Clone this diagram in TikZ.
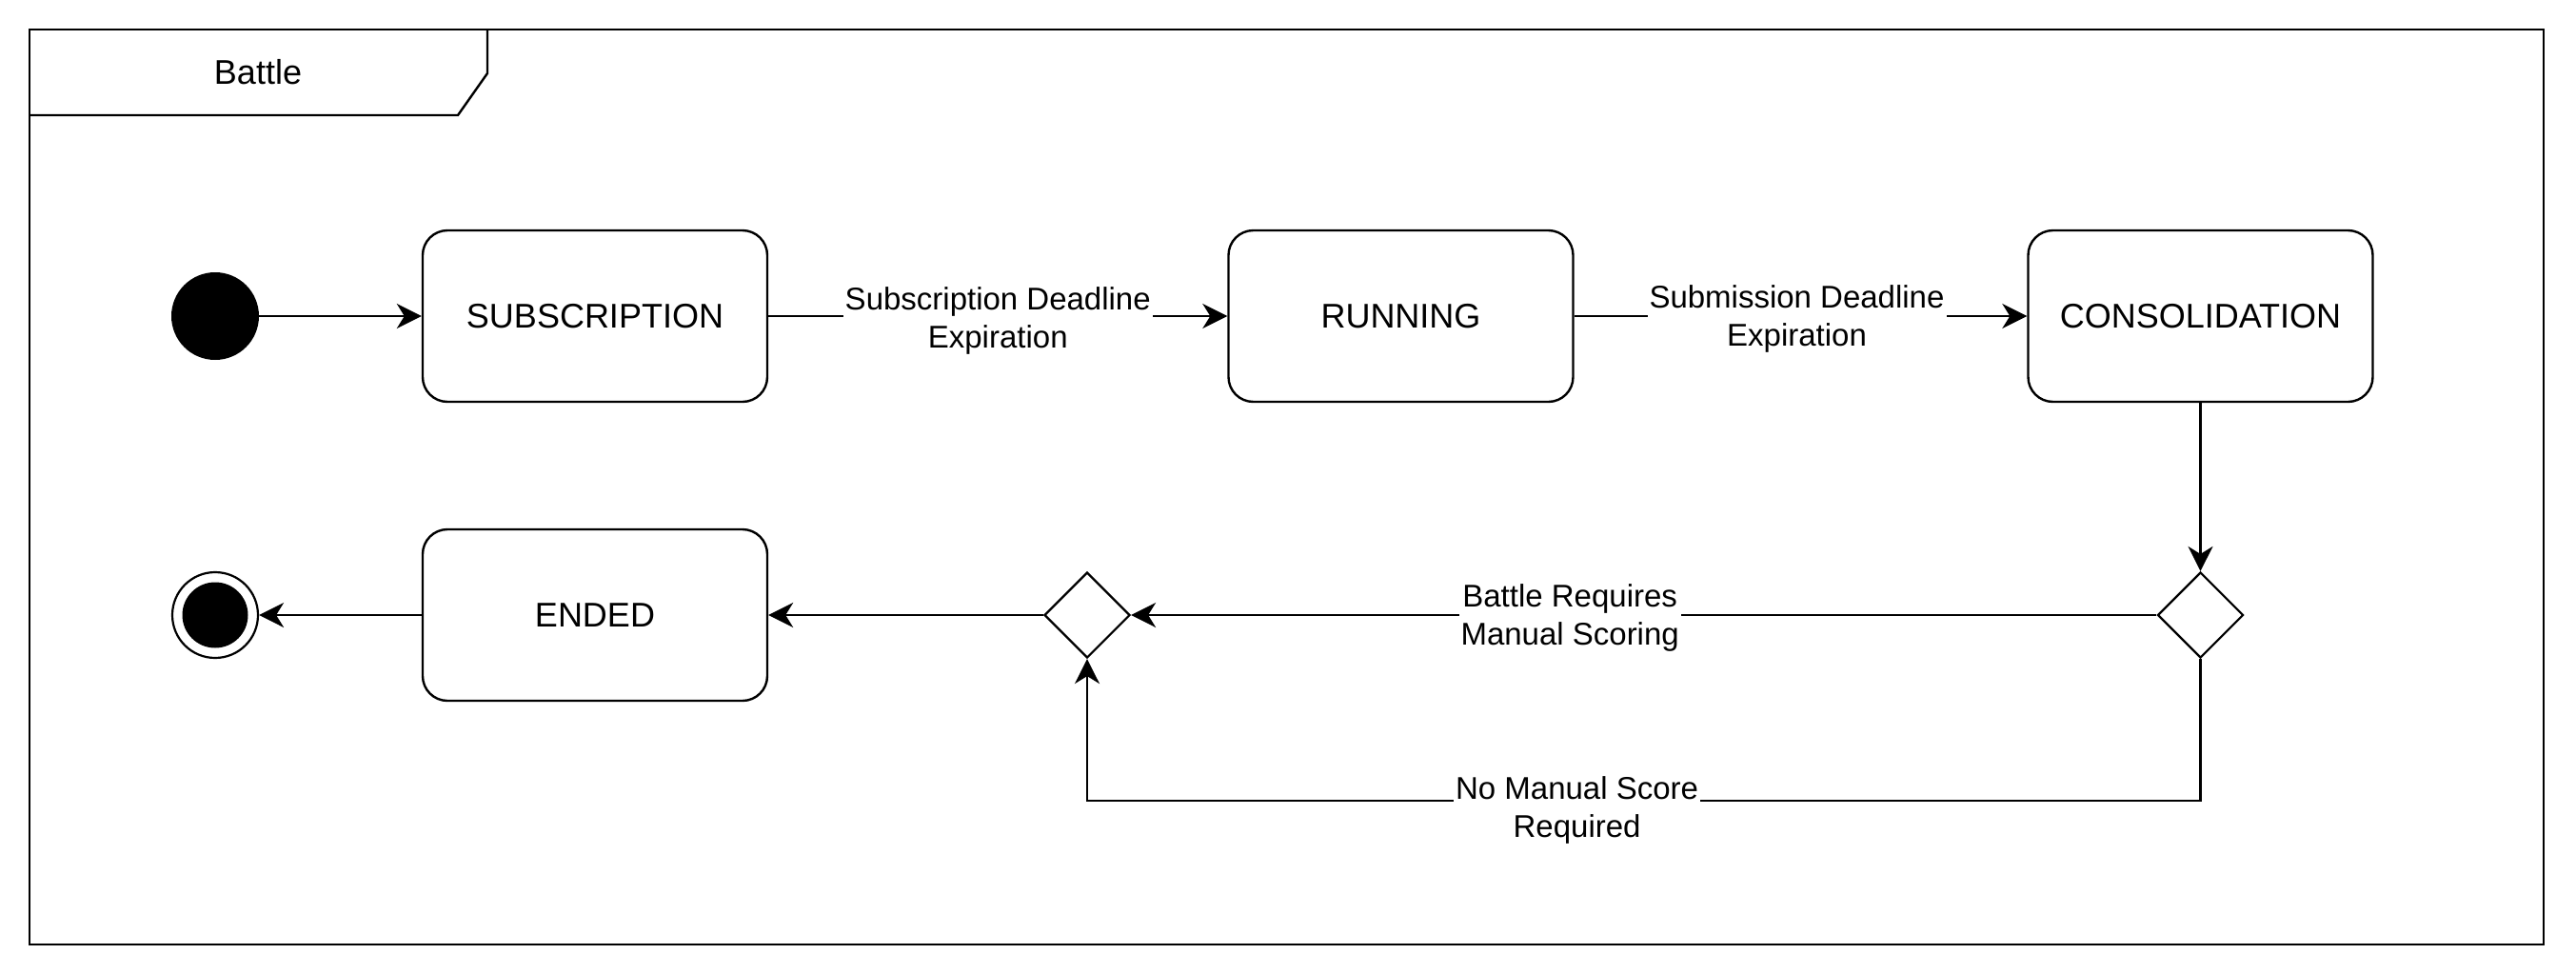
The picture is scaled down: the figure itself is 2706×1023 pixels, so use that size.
\documentclass[tikz,border=0pt]{standalone}
\usepackage{fontspec}
\setmainfont{Liberation Sans}
\usetikzlibrary{shapes,arrows.meta,positioning,calc}

\begin{document}
\begin{tikzpicture}[x=0.5pt,y=-0.5pt,
  statebox/.style={draw,line width=1.2pt,rounded corners=13pt,minimum width=181pt,minimum height=90pt,inner sep=0pt,font=\fontsize{18}{21.6}\selectfont},
  choice/.style={draw,line width=1.1pt,diamond,minimum width=45pt,minimum height=45pt,inner sep=0pt},
  startdot/.style={circle,fill=black,minimum size=46pt,inner sep=0pt},
  endring/.style={circle,draw,line width=1.1pt,minimum size=45pt,inner sep=0pt},
  enddisk/.style={circle,fill=black,minimum size=34.5pt,inner sep=0pt},
  trans/.style={line width=1.1pt,-{Stealth[length=13pt,width=13pt,inset=4pt]}},
  edgelabel/.style={fill=white,align=center,inner sep=1pt,font=\fontsize{16.5}{19.8}\selectfont}]
\useasboundingbox (0,0) rectangle (2706,1023);
% frame with its name tab
\draw[line width=1.2pt] (31,31) rectangle (2672,992);
\draw[line width=1.2pt] (31,121) -- (481,121) -- (512,77) -- (512,31);
\node[font=\fontsize{18}{21.6}\selectfont] (title) at (271,76) {Battle};
% states
\node[startdot] (start) at (226,332) {};
\node[statebox] (sub) at (625,332) {SUBSCRIPTION};
\node[statebox] (run) at (1471.5,332) {RUNNING};
\node[statebox] (cons) at (2311.5,332) {CONSOLIDATION};
\node[choice] (check) at (2311.5,646) {};
\node[choice] (merge) at (1142,646) {};
\node[statebox] (ended) at (625,646) {ENDED};
\node[endring] (stop) at (226,646) {};
\node[enddisk] at (stop) {};
\coordinate (corner) at (2311.5,841);
% transitions
\draw[trans] (start) -- (sub);
\draw[trans] (sub) -- node[edgelabel,yshift=-2.5pt] {Subscription Deadline\\Expiration} (run);
\draw[trans] (run) -- node[edgelabel,yshift=-1.5pt,xshift=-2pt] {Submission Deadline\\Expiration} (cons);
\draw[trans] (cons) -- (check);
\draw[trans] (check) -- node[edgelabel,pos=0.572,yshift=-1.5pt] {Battle Requires\\Manual Scoring} (merge);
\draw[trans] (check.south) -- (corner) -| node[edgelabel,pos=0.28,yshift=-5pt] {No Manual Score\\Required} (merge.south);
\draw[trans] (merge) -- (ended);
\draw[trans] (ended) -- (stop);
\end{tikzpicture}
\end{document}
